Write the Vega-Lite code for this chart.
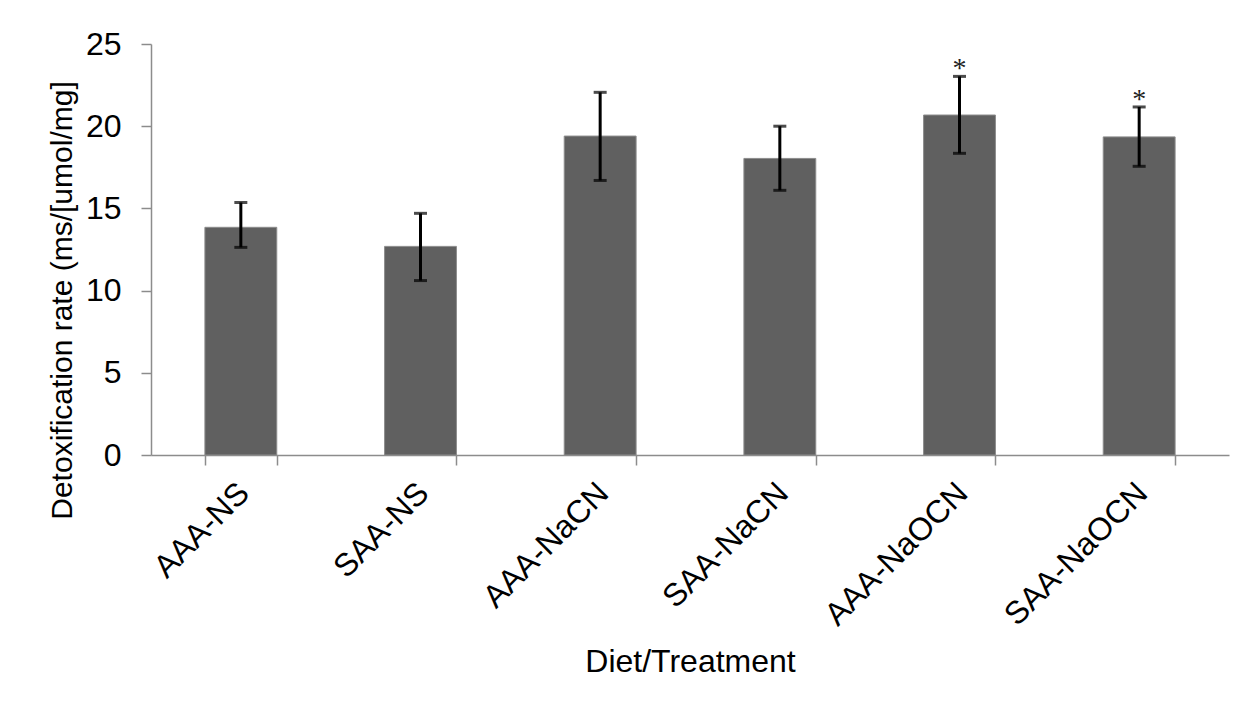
{
  "$schema": "https://vega.github.io/schema/vega-lite/v6.json",
  "width": 1078,
  "height": 411,
  "autosize": {"type": "none"},
  "padding": {"left": 151, "top": 44, "right": 19, "bottom": 249},
  "background": "white",
  "config": {
    "view": {"stroke": null},
    "font": "Liberation Sans",
    "axis": {
      "domainColor": "#8c8c8c",
      "tickColor": "#8c8c8c",
      "domainWidth": 1.5,
      "tickWidth": 1.5,
      "tickSize": 10,
      "grid": false,
      "labelColor": "black",
      "titleColor": "black",
      "labelFont": "Liberation Sans",
      "titleFont": "Liberation Sans",
      "titleFontWeight": "normal",
      "labelFontSize": 32,
      "titleFontSize": 32,
      "labelLimit": 0
    }
  },
  "data": {
    "values": [
      {"group": "AAA-NS", "value": 13.85, "lo": 12.63, "hi": 15.36, "star": ""},
      {"group": "SAA-NS", "value": 12.69, "lo": 10.61, "hi": 14.7, "star": ""},
      {"group": "AAA-NaCN", "value": 19.4, "lo": 16.7, "hi": 22.06, "star": ""},
      {"group": "SAA-NaCN", "value": 18.04, "lo": 16.1, "hi": 20.0, "star": ""},
      {"group": "AAA-NaOCN", "value": 20.68, "lo": 18.35, "hi": 23.03, "star": "*"},
      {"group": "SAA-NaOCN", "value": 19.35, "lo": 17.56, "hi": 21.17, "star": "*"}
    ]
  },
  "encoding": {
    "x": {
      "field": "group",
      "type": "nominal",
      "sort": null,
      "scale": {"paddingInner": 0.6, "paddingOuter": 0.3},
      "axis": {
        "title": "Diet/Treatment",
        "labelAngle": -45,
        "labelPadding": 12,
        "labelOffset": -8,
        "tickBand": "extent",
        "titlePadding": 16
      }
    }
  },
  "layer": [
    {
      "mark": {"type": "bar", "color": "#606060", "stroke": "#8c8c8c", "strokeWidth": 1},
      "encoding": {
        "y": {
          "field": "value",
          "type": "quantitative",
          "scale": {"domain": [0, 25], "nice": false},
          "axis": {
            "title": "Detoxification rate (ms/[umol/mg]",
            "values": [0, 5, 10, 15, 20, 25],
            "labelPadding": 20,
            "titlePadding": 8,
            "titleFontSize": 30,
            "titleY": 256
          }
        }
      }
    },
    {
      "mark": {"type": "rule", "color": "black", "strokeWidth": 3},
      "encoding": {
        "y": {"field": "lo", "type": "quantitative", "scale": {"domain": [0, 25], "nice": false}},
        "y2": {"field": "hi"}
      }
    },
    {
      "mark": {"type": "tick", "color": "black", "thickness": 3, "size": 13},
      "encoding": {"y": {"field": "lo", "type": "quantitative", "scale": {"domain": [0, 25], "nice": false}}}
    },
    {
      "mark": {"type": "tick", "color": "black", "thickness": 3, "size": 13},
      "encoding": {"y": {"field": "hi", "type": "quantitative", "scale": {"domain": [0, 25], "nice": false}}}
    },
    {
      "mark": {"type": "text", "font": "Liberation Serif", "fontSize": 28, "baseline": "alphabetic", "dy": 1, "color": "#222222"},
      "encoding": {
        "y": {"field": "hi", "type": "quantitative", "scale": {"domain": [0, 25], "nice": false}},
        "text": {"field": "star"}
      }
    }
  ]
}
